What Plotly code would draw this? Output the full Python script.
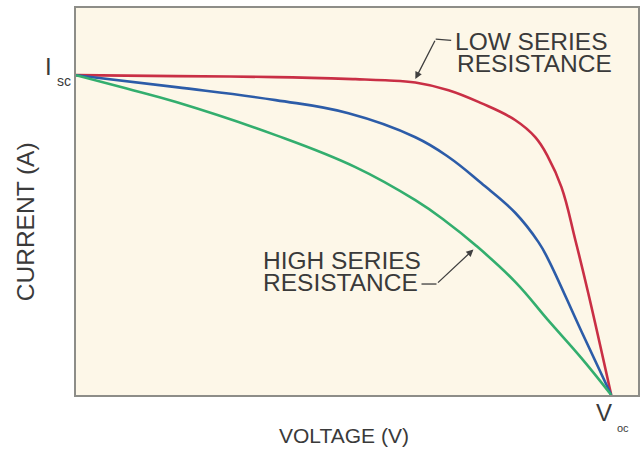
import plotly.graph_objects as go

# Normalised I-V curves: voltage as a fraction of Voc, current as a fraction of Isc
low_v = [0.0, 0.187, 0.373, 0.522, 0.578, 0.634, 0.696, 0.757, 0.821, 0.858, 0.882, 0.907, 0.933, 0.957, 1.0]
low_i = [1.0, 0.997, 0.994, 0.9875, 0.984, 0.977, 0.953, 0.9125, 0.859, 0.806, 0.744, 0.65, 0.484, 0.319, 0.0]

mid_v = [0.0, 0.187, 0.373, 0.509, 0.634, 0.696, 0.757, 0.821, 0.864, 0.882, 0.944, 1.0]
mid_i = [1.0, 0.9625, 0.922, 0.881, 0.806, 0.744, 0.6625, 0.569, 0.478, 0.425, 0.2, 0.0]

high_v = [0.0, 0.093, 0.187, 0.373, 0.522, 0.634, 0.690, 0.746, 0.821, 0.882, 0.944, 1.0]
high_i = [1.0, 0.959, 0.916, 0.8125, 0.7125, 0.609, 0.544, 0.469, 0.353, 0.234, 0.116, 0.0]

series = [
    (low_v, low_i, "#c92f45"),
    (mid_v, mid_i, "#2c5ca8"),
    (high_v, high_i, "#33ae6e"),
]

W, H = 641, 450
L, R, T, B = 76, 1, 8, 55
TXT = "#3a3a3a"
FONT = "Liberation Sans, Arial, Helvetica, sans-serif"

fig = go.Figure()
for v, i, c in series:
    fig.add_trace(go.Scatter(x=v, y=i, mode="lines",
                             line=dict(color=c, width=2.6, shape="spline", smoothing=1.2),
                             hoverinfo="skip", showlegend=False))

pw, ph = W - L - R, H - T - B


def px(x, y):
    """Pixel position -> paper coordinates."""
    return (x - L) / pw, (T + ph - y) / ph


def label(text, x, y, size, xanchor="left", angle=0):
    xp, yp = px(x, y)
    fig.add_annotation(x=xp, y=yp, xref="paper", yref="paper", text=text,
                       showarrow=False, xanchor=xanchor, yanchor="middle",
                       textangle=angle, borderpad=0,
                       font=dict(family=FONT, size=size, color=TXT))


label("LOW SERIES", 455, 41, 24.5)
label("RESISTANCE", 457, 63.5, 24.5)
label("HIGH SERIES", 263, 260, 24.5)
label("RESISTANCE", 263, 282.5, 24.5)
label("VOLTAGE (V)", 345, 435.5, 21, xanchor="center")
label("CURRENT (A)", 26, 222, 24.5, xanchor="center", angle=-90)
label("I", 48.5, 66.5, 24, xanchor="center")
label("sc", 63.5, 81, 14, xanchor="center")
label("V", 606, 412, 24, xanchor="center")
label("oc", 625, 428, 11, xanchor="center")

# Leader arrows: (tip, bend, stub end) in data units
leaders = [
    ((0.634, 0.988), (0.672, 1.1125), (0.701, 1.109)),
    ((0.7425, 0.455), (0.6735, 0.347), (0.6455, 0.347)),
]
for tip, bend, stub in leaders:
    fig.add_annotation(x=tip[0], y=tip[1], ax=bend[0], ay=bend[1],
                       xref="x", yref="y", axref="x", ayref="y",
                       showarrow=True, arrowhead=2, arrowsize=1.1, arrowwidth=1.3,
                       arrowcolor="#404040", standoff=0, text="")
    fig.add_shape(type="line", x0=bend[0], y0=bend[1], x1=stub[0], y1=stub[1],
                  xref="x", yref="y", line=dict(color="#404040", width=1.3))

axis = dict(showline=True, mirror=True, linecolor="#8d8d88", linewidth=2,
            showgrid=False, zeroline=False, showticklabels=False, ticks="",
            fixedrange=True)
fig.update_xaxes(range=[0, 1.05], **axis)
fig.update_yaxes(range=[0, 1.21], **axis)

fig.update_layout(width=W, height=H, margin=dict(l=L, r=R, t=T, b=B),
                  paper_bgcolor="white", plot_bgcolor="#fdf7e8",
                  showlegend=False)

fig.write_html("out.html", config={"displayModeBar": False})
